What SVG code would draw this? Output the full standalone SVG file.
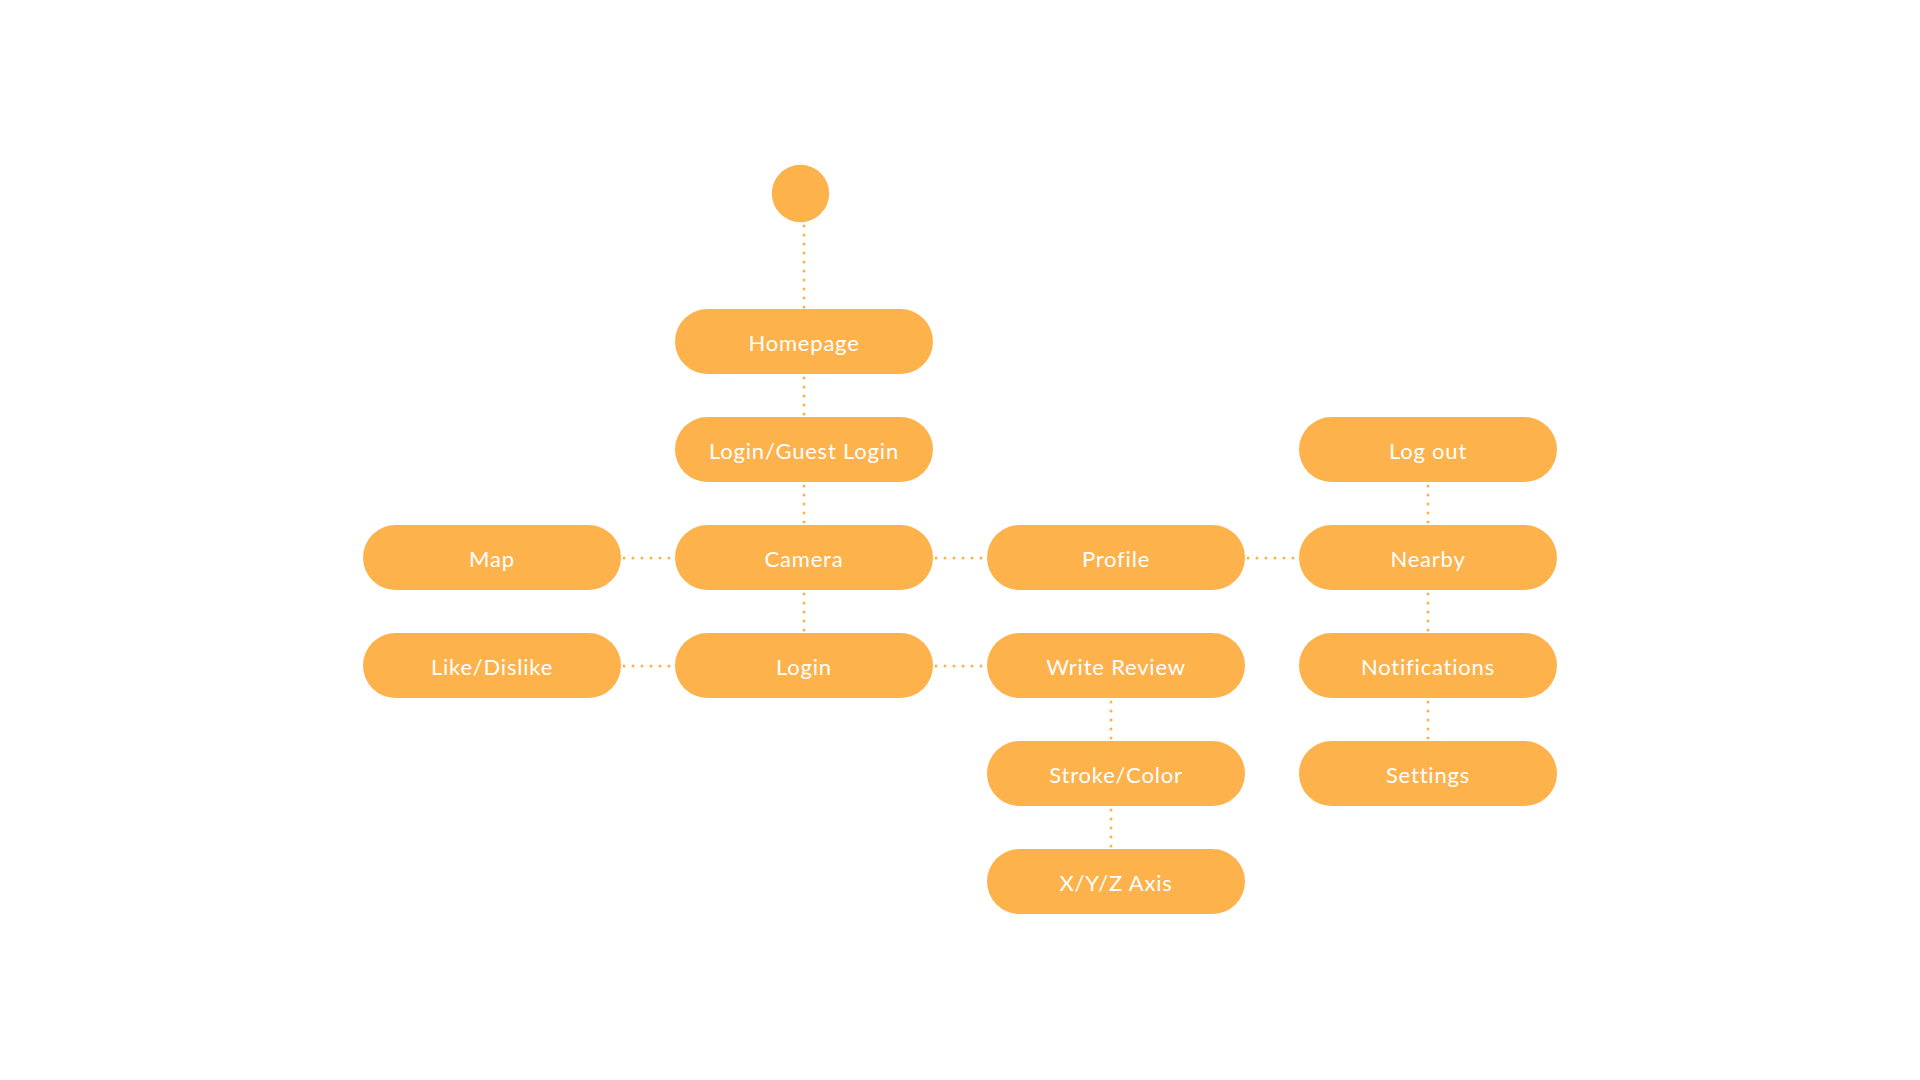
<svg xmlns="http://www.w3.org/2000/svg" width="1920" height="1080" viewBox="0 0 1920 1080">
<style>
.n rect, .n circle { fill: #FDB24C; }
.n text { fill: #FFFFFF; font-family: Lato, "Open Sans", "Liberation Sans", sans-serif; font-size: 22px; letter-spacing: 0.8px; text-anchor: middle; }
.c line { stroke: #FDB24C; stroke-width: 3; stroke-linecap: round; stroke-dasharray: 0 9; fill: none; }
</style>
<rect width="1920" height="1080" fill="#FFFFFF"/>
<g class="c" id="connectors">
<line x1="804" y1="226" x2="804" y2="309"/>
<line x1="804" y1="378" x2="804" y2="417"/>
<line x1="804" y1="486" x2="804" y2="525"/>
<line x1="804" y1="594" x2="804" y2="633"/>
<line x1="624" y1="558" x2="672" y2="558"/>
<line x1="624" y1="666" x2="672" y2="666"/>
<line x1="936" y1="558" x2="984" y2="558"/>
<line x1="936" y1="666" x2="984" y2="666"/>
<line x1="1248" y1="558" x2="1296" y2="558"/>
<line x1="1428" y1="486" x2="1428" y2="525"/>
<line x1="1428" y1="594" x2="1428" y2="633"/>
<line x1="1428" y1="702" x2="1428" y2="741"/>
<line x1="1111" y1="702" x2="1111" y2="741"/>
<line x1="1111" y1="810" x2="1111" y2="849"/>
</g>
<g class="n" id="start"><circle cx="800.5" cy="193.5" r="28.7"/></g>
<g class="n" id="homepage"><rect x="675" y="309" width="258" height="65" rx="32.5"/><text x="804" y="351">Homepage</text></g>
<g class="n" id="login-guest"><rect x="675" y="417" width="258" height="65" rx="32.5"/><text x="804" y="459">Login/Guest Login</text></g>
<g class="n" id="camera"><rect x="675" y="525" width="258" height="65" rx="32.5"/><text x="804" y="567">Camera</text></g>
<g class="n" id="login"><rect x="675" y="633" width="258" height="65" rx="32.5"/><text x="804" y="675">Login</text></g>
<g class="n" id="map"><rect x="363" y="525" width="258" height="65" rx="32.5"/><text x="492" y="567">Map</text></g>
<g class="n" id="like-dislike"><rect x="363" y="633" width="258" height="65" rx="32.5"/><text x="492" y="675">Like/Dislike</text></g>
<g class="n" id="profile"><rect x="987" y="525" width="258" height="65" rx="32.5"/><text x="1116" y="567">Profile</text></g>
<g class="n" id="write-review"><rect x="987" y="633" width="258" height="65" rx="32.5"/><text x="1116" y="675">Write Review</text></g>
<g class="n" id="stroke-color"><rect x="987" y="741" width="258" height="65" rx="32.5"/><text x="1116" y="783">Stroke/Color</text></g>
<g class="n" id="xyz-axis"><rect x="987" y="849" width="258" height="65" rx="32.5"/><text x="1116" y="891">X/Y/Z Axis</text></g>
<g class="n" id="log-out"><rect x="1299" y="417" width="258" height="65" rx="32.5"/><text x="1428" y="459">Log out</text></g>
<g class="n" id="nearby"><rect x="1299" y="525" width="258" height="65" rx="32.5"/><text x="1428" y="567">Nearby</text></g>
<g class="n" id="notifications"><rect x="1299" y="633" width="258" height="65" rx="32.5"/><text x="1428" y="675">Notifications</text></g>
<g class="n" id="settings"><rect x="1299" y="741" width="258" height="65" rx="32.5"/><text x="1428" y="783">Settings</text></g>
</svg>
